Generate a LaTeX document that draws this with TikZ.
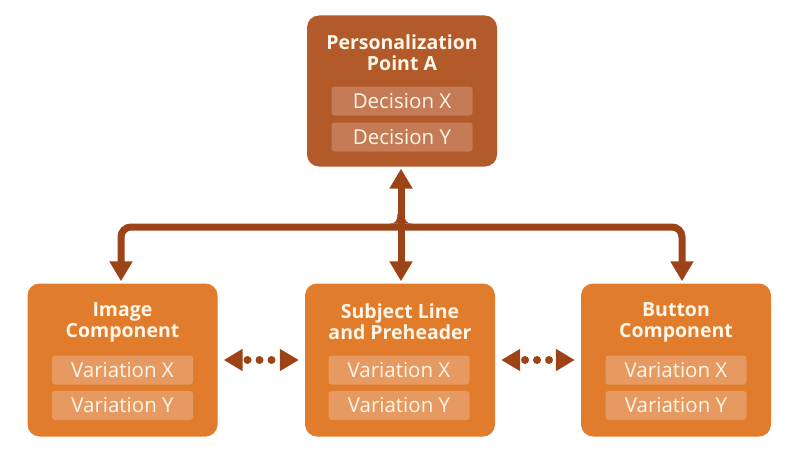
\documentclass[tikz,border=0pt]{standalone}
\usepackage{fontspec}
\setmainfont{Open Sans}
\usetikzlibrary{arrows.meta}
\definecolor{topfill}{HTML}{B35A2B}
\definecolor{topsub}{HTML}{C47B56}
\definecolor{botfill}{HTML}{E07C2C}
\definecolor{botsub}{HTML}{E69A62}
\definecolor{arrowc}{HTML}{9C4317}
\definecolor{txt}{HTML}{FFF6E8}
\tikzset{
  x=1pt, y=-1pt,
  bigbox/.style={rounded corners=12pt, minimum width=190pt, minimum height=153pt, inner sep=0pt},
  subbox/.style={rounded corners=3pt, minimum width=141pt, minimum height=29pt, inner sep=0pt,
     text=txt, font=\fontsize{20.5}{20.5}\selectfont},
  titletxt/.style={text=txt, font=\fontsize{19.5}{21}\selectfont\bfseries, align=center, inner sep=0pt},
  conn/.style={draw=arrowc, line width=7pt, rounded corners=10pt,
     {Triangle[width=22pt,length=20pt]}-{Triangle[width=22pt,length=20pt]}},
  dotconn/.style={draw=arrowc, line width=8pt, line cap=round, dash pattern=on 0pt off 12pt, dash phase=6pt,
     {Triangle[width=21pt,length=19pt,line cap=butt]}-{Triangle[width=21pt,length=19pt,line cap=butt]}, shorten <=6pt, shorten >=6pt}
}
\begin{document}
\begin{tikzpicture}
\useasboundingbox (0,0) rectangle (800,452);
\fill[white] (0,0) rectangle (800,452);
% top box
\node[bigbox, fill=topfill, minimum height=151pt] (top) at (402,91) {};
\node[titletxt] (toptitle) at (402,53) {Personalization\\Point A};
\node[subbox, fill=topsub] (dx) at (402,101) {Decision X};
\node[subbox, fill=topsub] (dy) at (402,137) {Decision Y};
% bottom boxes
\node[bigbox, fill=botfill] (left) at (122.5,360) {};
\node[titletxt] (lefttitle) at (122.5,322) {Image\\Component};
\node[subbox, fill=botsub] (lx) at (122.5,370) {Variation X};
\node[subbox, fill=botsub] (ly) at (122.5,405.5) {Variation Y};
\node[bigbox, fill=botfill] (mid) at (400,360) {};
\node[titletxt] (midtitle) at (400,322) {Subject Line\\and Preheader};
\node[subbox, fill=botsub] (mx) at (399,370) {Variation X};
\node[subbox, fill=botsub] (my) at (399,405.5) {Variation Y};
\node[bigbox, fill=botfill] (right) at (676,360) {};
\node[titletxt] (righttitle) at (676,322) {Button\\Component};
\node[subbox, fill=botsub] (rx) at (676,370) {Variation X};
\node[subbox, fill=botsub] (ry) at (676,405.5) {Variation Y};
% connectors
\coordinate (j) at (401,227);
\coordinate (la) at (121,227);
\coordinate (ra) at (682,227);
\draw[conn, shorten <=2pt, shorten >=2pt] (left.north -| la) -- (la) -- (ra) -- (right.north -| ra);
\draw[conn, rounded corners=0pt, shorten <=2pt, shorten >=2pt] (top.south -| j) -- (mid.north -| j);
\fill[arrowc] (390,223.5) .. controls (396,223.5) and (397.5,220) .. (397.5,214) -- (404.5,214) .. controls (404.5,220) and (406,223.5) .. (412,223.5) -- cycle;
\draw[dotconn] (left.east) -- (mid.west);
\draw[dotconn] (mid.east) -- (right.west);
\end{tikzpicture}
\end{document}
